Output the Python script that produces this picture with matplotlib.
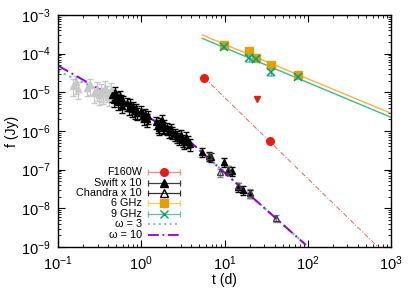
import matplotlib
matplotlib.use("Agg")
import matplotlib.pyplot as plt
import numpy as np

plt.rcParams['font.family'] = ['Liberation Sans', 'DejaVu Sans']
plt.rcParams['mathtext.fontset'] = 'custom'
plt.rcParams['mathtext.rm'] = 'Liberation Sans'
plt.rcParams['mathtext.it'] = 'Liberation Sans'
plt.rcParams['axes.unicode_minus'] = False

# F160W (IR) detections, upper limit and model
f160_t = [5.7, 35.2]
f160_f = [2.4e-5, 5.5e-7]
f160_ul_t = [24.5]
f160_ul_f = [6.7e-6]
f160_fit_t = [5.7, 800]
f160_fit_f = [2.4e-5, 7.5e-10]

# radio
r6_t = [9.9, 19.7, 23.7, 36.5, 75.7]
r6_f = [1.68e-4, 1.19e-4, 7.6e-5, 5.1e-5, 2.75e-5]
r9_t = [9.9, 19.7, 23.7, 36.5, 75.7]
r9_f = [1.51e-4, 7.6e-5, 7.1e-5, 3.4e-5, 2.45e-5]
r9_err = [0.15, 0.2, 0.1, 0.2, 0.12]
r6_fit_t = [5.4, 1000]
r6_fit_f = [3.04e-4, 2.87e-6]
r9_fit_t = [5.4, 1000]
r9_fit_f = [2.49e-4, 2.26e-6]

# early X-ray (grey, not in key)
early_t = [0.15, 0.165, 0.175, 0.22, 0.24, 0.27, 0.29, 0.31, 0.33, 0.35, 0.37,
           0.39, 0.41, 0.43]
early_f = [1.5e-5, 1.8e-5, 1.25e-5, 1.3e-5, 1.55e-5, 9.5e-6, 1.2e-5, 8.5e-6,
           1.1e-5, 9e-6, 1.3e-5, 1.0e-5, 8e-6, 1.15e-5]
early_err = [0.45, 0.5, 0.45, 0.4, 0.45, 0.45, 0.5, 0.45, 0.5, 0.45, 0.5, 0.45,
             0.45, 0.5]

# Swift x 10
swift_t = [0.45, 0.47, 0.49, 0.51, 0.53, 0.55, 0.57, 0.59, 0.61,
           0.68, 0.71, 0.74, 0.77, 0.80, 0.83, 0.86, 0.89,
           1.00, 1.04, 1.08, 1.12, 1.16, 1.20,
           1.52, 1.58, 1.64, 1.70, 1.76, 1.82, 1.90,
           2.05, 2.15, 2.25, 2.35,
           2.55, 2.70, 2.85, 3.00, 3.15, 3.30, 3.45, 3.60, 3.9,
           5.3, 6.5, 6.9, 9.9, 11.1, 12.4, 14.7, 16.8, 20.2]
swift_f = [8.5e-6, 6.5e-6, 1.0e-5, 7.5e-6, 5.5e-6, 8e-6, 6.5e-6, 4.5e-6, 5.8e-6,
           5.2e-6, 4.0e-6, 5.0e-6, 3.6e-6, 4.2e-6, 3.2e-6, 3.8e-6, 2.9e-6,
           3.2e-6, 2.6e-6, 2.2e-6, 2.8e-6, 2.0e-6, 2.4e-6,
           1.7e-6, 1.4e-6, 1.2e-6, 1.6e-6, 1.9e-6, 1.3e-6, 1.4e-6,
           1.2e-6, 1.0e-6, 1.1e-6, 0.95e-6,
           8.5e-7, 7.5e-7, 6.5e-7, 8e-7, 6e-7, 5.2e-7, 6.8e-7, 5.5e-7, 4.6e-7,
           2.9e-7, 2.3e-7, 2.1e-7, 1.6e-7, 9.8e-8, 9.4e-8, 3.6e-8, 3.0e-8, 2.45e-8]
swift_err = [0.35] * 43 + [0.25] * 9

# Chandra x 10
chandra_t = [6.6, 8.8, 11.0, 14.7, 20.0, 41.6]
chandra_f = [2.2e-7, 8.5e-8, 1.0e-7, 3.8e-8, 2.5e-8, 5.5e-9]
chandra_err = [0.2, 0.25, 0.25, 0.2, 0.25, 0.2]

# models
w10_t = [0.1, 0.42, 1.0, 3.86, 10.1, 95]
w10_f = [4.9e-5, 8.5e-6, 2.9e-6, 5.3e-7, 8.2e-8, 1.13e-9]
w3_t = [0.1, 0.23, 0.484, 1.0, 3.86, 10.1, 95]
w3_f = [3.55e-5, 1.55e-5, 7.2e-6, 2.9e-6, 5.3e-7, 8.2e-8, 1.13e-9]

xticks = [0.1, 1, 10, 100, 1000]
yticks = [1e-9, 1e-8, 1e-7, 1e-6, 1e-5, 1e-4, 1e-3]

red = '#e51e10'
orange = '#e69f00'
green = '#009e73'
blue = '#56b4e9'
purple = '#9400d3'

fig = plt.figure(figsize=(4.15, 2.90), dpi=100)
ax = fig.add_axes([0.1398, 0.1483, 0.8024, 0.80])


def errs(f, e):
    f = np.asarray(f)
    return f * np.asarray(e)


ax.errorbar(early_t, early_f, yerr=errs(early_f, early_err), fmt='^', ms=4.5,
            color='#c8c8c8', ecolor='#c8c8c8', elinewidth=0.9, capsize=2)
ax.errorbar(swift_t, swift_f, yerr=errs(swift_f, swift_err), fmt='^', ms=4.5,
            color='black', ecolor='black', elinewidth=0.9, capsize=2)
ax.errorbar(chandra_t, chandra_f, yerr=errs(chandra_f, chandra_err), fmt='^', ms=4.5,
            color='#404040', mfc='none', ecolor='#808080', elinewidth=0.9, capsize=2)

ax.plot(w3_t, w3_f, linestyle=(0, (1, 2)), color=blue, lw=1.5)
ax.plot(w10_t, w10_f, linestyle=(0, (6, 2, 1, 2)), color=purple, lw=1.4)

ax.plot(f160_fit_t, f160_fit_f, linestyle=(0, (5, 2, 1, 2)), color=red, lw=0.7, alpha=0.7)
ax.plot(f160_t, f160_f, 'o', color=red, ms=5.5)
ax.plot(f160_ul_t, f160_ul_f, 'v', color=red, ms=5)

ax.plot(r6_fit_t, r6_fit_f, color=orange, lw=1, alpha=0.75)
ax.plot(r9_fit_t, r9_fit_f, color=green, lw=1, alpha=0.75)
ax.plot(r6_t, r6_f, 's', color=orange, ms=6)
ax.errorbar(r9_t, r9_f, yerr=errs(r9_f, r9_err), fmt='x', ms=5.5, mew=1.1,
            color=green, ecolor='#5cc0a4', elinewidth=0.9, capsize=2.5)

ax.set_xscale('log')
ax.set_yscale('log')
ax.set_xticks(xticks)
ax.set_yticks(yticks)
ax.set_xlim(0.1, 1000)
ax.set_ylim(1e-9, 1e-3)
ax.set_xlabel('t (d)', fontsize=10, labelpad=0)
ax.set_ylabel('f (Jy)', fontsize=10, labelpad=2)
ax.tick_params(which='both', direction='in', top=True, right=True, labelsize=10.5)
ax.tick_params(which='major', length=5, width=0.8, pad=5)
ax.tick_params(which='minor', length=2.5, width=0.6)
for s in ax.spines.values():
    s.set_linewidth(1.0)

# key, drawn gnuplot style
key = [('F160W', 'o', red, '#f08c8c', '-', 'full'),
       ('Swift x 10', '^', 'black', '#404040', '-', 'full'),
       ('Chandra x 10', '^', 'black', '#303030', '-', 'none'),
       ('6 GHz', 's', orange, '#f5c870', '-', 'full'),
       ('9 GHz', 'x', green, '#5cc0a4', '-', 'full'),
       ('ω = 3', None, blue, blue, (0, (1, 2)), None),
       ('ω = 10', None, purple, purple, (0, (6, 2, 1, 2)), None)]
ky = [0.322, 0.276, 0.231, 0.188, 0.143, 0.099, 0.052]
for (lab, mk, mc, lc, ls, fill), y in zip(key, ky):
    ax.text(0.252, y, lab, transform=ax.transAxes, ha='right', va='center', fontsize=7.8)
    if mk is None:
        ax.plot([0.270, 0.366], [y, y], transform=ax.transAxes, color=lc, ls=ls, lw=1.3)
    else:
        ax.plot([0.270, 0.366], [y, y], transform=ax.transAxes, color=lc, lw=0.9,
                marker='|', ms=5, mew=0.9)
        ax.plot([0.318], [y], transform=ax.transAxes, marker=mk, color=mc,
                ms=5.5, mfc=mc if fill == 'full' else 'none', mew=1)

fig.savefig('out.png', dpi=100)
